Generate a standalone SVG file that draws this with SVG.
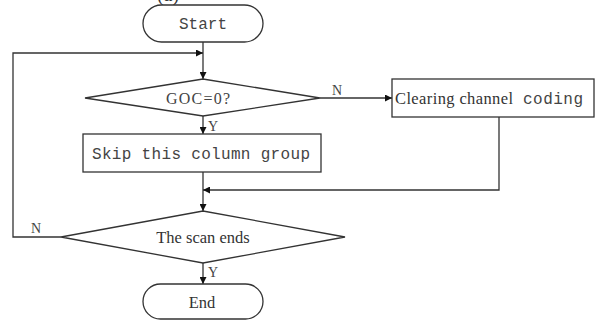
<svg xmlns="http://www.w3.org/2000/svg" width="595" height="320" viewBox="0 0 595 320">
<defs>
<style>
.shape{fill:#fff;stroke:#333;stroke-width:1.3}
.line{fill:none;stroke:#333;stroke-width:1.3}
.mono{font-family:"Liberation Mono","Noto Sans CJK SC",monospace;font-size:16px;fill:#444}
.serif{font-family:"Liberation Serif",serif;font-size:16.5px;fill:#333}
.lbl{font-family:"Liberation Serif",serif;font-size:14px;fill:#444}
</style>
<marker id="arr" viewBox="0 0 10 10" refX="10" refY="5" markerWidth="7" markerHeight="7" markerUnits="userSpaceOnUse" orient="auto">
<path d="M0,0 L10,5 L0,10 z" fill="#111"/>
</marker>
</defs>
<rect width="595" height="320" fill="#fff"/>
<text x="168" y="1" text-anchor="middle" style="font-family:'Liberation Serif',serif;font-size:20px;fill:#333">(a)</text>
<g id="connectors">
<line class="line" x1="203" y1="42" x2="203" y2="79" marker-end="url(#arr)"/>
<polyline class="line" points="61,237 13,237 13,53 203,53" marker-end="url(#arr)"/>
<line class="line" x1="320" y1="98" x2="392" y2="98" marker-end="url(#arr)"/>
<line class="line" x1="203" y1="116" x2="203" y2="134" marker-end="url(#arr)"/>
<line class="line" x1="203" y1="172" x2="203" y2="211" marker-end="url(#arr)"/>
<polyline class="line" points="499,117 499,190 203,190" marker-end="url(#arr)"/>
<line class="line" x1="203" y1="263" x2="203" y2="284" marker-end="url(#arr)"/>
<text class="lbl" x="332" y="95">N</text>
<text class="lbl" x="208" y="131">Y</text>
<text class="lbl" x="31" y="233">N</text>
<text class="lbl" x="208" y="277">Y</text>
</g>
<g id="start">
<rect class="shape" x="143" y="5" width="120" height="37" rx="18.5"/>
<text class="mono" x="203" y="29" text-anchor="middle">Start</text>
</g>
<g id="goc">
<polygon class="shape" points="85,98 203,79 320,98 203,116"/>
<text x="166" y="104" textLength="64" style="font-family:'Liberation Serif',serif;font-size:16px;fill:#444">GOC=0?</text>
</g>
<g id="clearing">
<rect class="shape" x="392" y="79" width="202" height="38"/>
<text class="serif" x="395" y="104" textLength="118">Clearing channel</text>
<text class="mono" x="523" y="104" textLength="60">coding</text>
</g>
<g id="skip">
<rect class="shape" x="83" y="134" width="238" height="38"/>
<text class="mono" x="92" y="159" textLength="218">Skip this column group</text>
</g>
<g id="scan">
<polygon class="shape" points="61,237 203,211 345,237 203,263"/>
<text class="serif" x="203" y="243" text-anchor="middle">The scan ends</text>
</g>
<g id="end">
<rect class="shape" x="143" y="284" width="120" height="35" rx="17.5"/>
<text class="serif" x="202" y="308" text-anchor="middle">End</text>
</g>
</svg>
